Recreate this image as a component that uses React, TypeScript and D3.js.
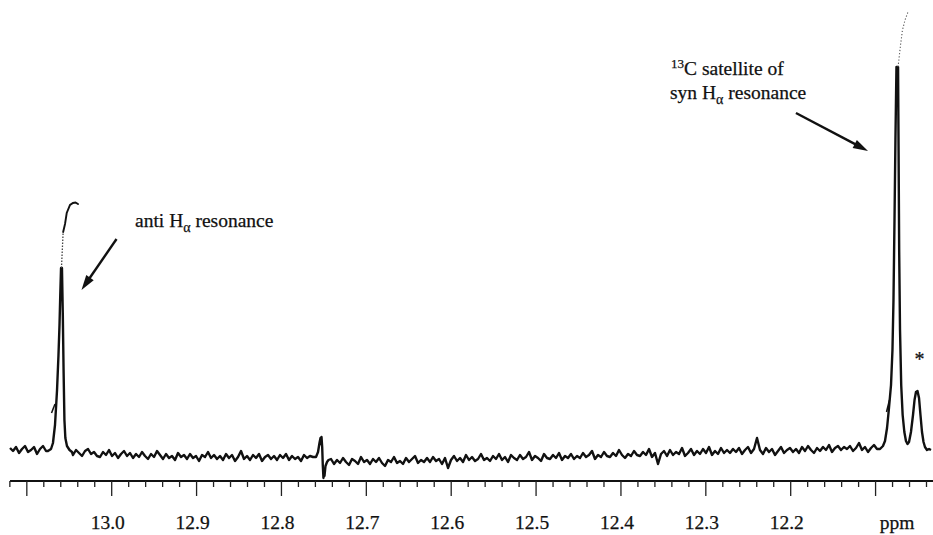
import React from "react";
import * as d3 from "d3";

const W = 933;
const H = 535;

// ppm axis
const majorTicks = [13.1, 13.0, 12.9, 12.8, 12.7, 12.6, 12.5, 12.4, 12.3, 12.2, 12.1];
const labelValues = [13.0, 12.9, 12.8, 12.7, 12.6, 12.5, 12.4, 12.3, 12.2];
const tickLabels = ["13.0", "12.9", "12.8", "12.7", "12.6", "12.5", "12.4", "12.3", "12.2"];
const unitLabel = "ppm";
const unitLabelPpm = 12.0748;
const minorStart = 13.12;
const minorEnd = 12.04;
const minorStep = 0.02;
const axisStartPpm = 13.1198;
const axisEndPpm = 12.0323;

// spectrum range (ppm)
const traceStartPpm = 13.1198;
const traceEndPpm = 12.0347;

// baseline noise, sampled uniformly from traceStartPpm to traceEndPpm (intensity units)
const baselineNoise = [
  4, 1, 5, -1, 3, 6, 0, 2, 5, -2,
  3, 6, 1, 4, 2, 0, 3, 1, -1, 2,
  1, -3, 2, -1, -4, 1, 3, -2, 0, -4,
  -5, 0, -3, 2, -4, -1, -6, -2, 1, -4,
  -1, -6, -2, -5, 0, -4, -7, -2, -5, 1,
  -3, -7, -2, -6, -4, -8, -1, -5, -3, -7,
  -2, -6, -4, -9, -3, -5, 0, -6, -3, -7,
  -4, -8, -2, -6, -3, -9, -5, 1, -7, -4,
  -8, -3, -6, -2, -9, -5, -3, -7, -4, -8,
  -3, -6, -2, -8, -4, -7, -5, -9, -3, -6,
  -4, -5, -6, -8, -7, -9, -10, -7, -12, -8,
  -11, -6, -10, -13, -7, -9, -12, -5, -10, -8,
  -12, -7, -10, -6, -11, -14, -8, -10, -5, -11,
  -9, -12, -6, -10, -7, -4, -11, -8, -10, -6,
  -10, -5, -9, -7, -12, -6, -16, -8, -4, -9,
  -6, -10, -3, -8, -5, -9, -7, -2, -8, -6,
  -9, -4, -7, -2, -8, -5, -10, -3, -6, -8,
  -3, -7, -5, 0, -8, -4, -6, -9, -2, -6,
  -7, -3, -6, -1, -8, -4, -6, -2, -7, -4,
  -6, -1, -5, -3, 1, -7, -3, -5, 0, -4,
  -5, -1, -4, 2, -3, -6, -2, -4, 1, -3,
  -4, 0, -3, 3, -5, -1, -12, -2, 1, -4,
  2, -3, 0, -2, 4, -4, -1, 3, -3, 1,
  -2, 3, -1, 5, -3, 1, -2, 4, -1, 2,
  -1, 3, 0, 4, -2, 2, 5, -1, 3, 14,
  2, -2, 4, 0, 3, -3, 1, 5, -1, 2,
  4, 0, 3, -1, 5, 1, 6, 2, -1, 4,
  1, 5, 2, 7, 0, 4, 6, 2, 5, 3,
  6, 1, 4, 9, 2, 5, 0, 4, 7, 3,
  3, 2, 4, 1, 3, 2, 4, 1, 3, 2,
  3, 2, 4, 1, 3, 2, 1, 2,
];

// anti H-alpha resonance [ppm, intensity]
const antiPeak: [number, number][] = [
  [13.0751, 1], [13.0715, 3], [13.0692, 9], [13.0668, 27], [13.0644, 62],
  [13.0627, 97], [13.0615, 127], [13.0606, 157], [13.0597, 184], [13.0586, 184],
  [13.0576, 137], [13.0567, 82], [13.0557, 32], [13.0546, 14], [13.0527, 6],
  [13.0497, 2], [13.0468, 0],
];
// pen trace above the anti peak (off-scale part)
const antiOvershootDots: [number, number][] = [
  [13.0592, 184], [13.0582, 202], [13.0572, 220],
];
const antiOvershootHook: [number, number][] = [
  [13.0572, 220], [13.055, 228], [13.053, 239], [13.0491, 247], [13.0456, 249],
  [13.0427, 249.5], [13.0397, 248],
];
const antiMark: [number, number][] = [[13.0709, 39], [13.0668, 48]];

// artefact near 12.75 ppm
const glitch: [number, number][] = [
  [12.7593, -5], [12.7569, 0], [12.7552, 9], [12.754, 14], [12.7532, 8],
  [12.7528, 15], [12.752, 5], [12.7513, -13], [12.7505, -26], [12.7499, -18],
  [12.7493, -24], [12.7481, -14], [12.7463, -10], [12.7446, -8],
];

// 13C satellite of syn H-alpha and impurity (*)
const synPeaks: [number, number][] = [
  [12.0948, 3], [12.0913, 6], [12.0889, 11], [12.0865, 24], [12.0842, 44],
  [12.0818, 67], [12.0801, 102], [12.0789, 152], [12.0777, 232], [12.0766, 312],
  [12.0754, 385], [12.0735, 385], [12.0729, 302], [12.0722, 202], [12.0712, 122],
  [12.0698, 67], [12.0681, 37], [12.0661, 20], [12.0642, 11], [12.0624, 8],
  [12.0606, 10], [12.0583, 20], [12.0559, 37], [12.0541, 52], [12.0524, 60],
  [12.0506, 61], [12.0488, 54], [12.0471, 37], [12.0453, 20], [12.0435, 10],
  [12.0418, 5], [12.0394, 2], [12.037, 3],
];
const synOvershootDots: [number, number][] = [
  [12.0735, 385], [12.0706, 407], [12.0683, 422], [12.0653, 432], [12.0618, 440],
];
const synMark: [number, number][] = [[12.0871, 40], [12.0836, 52]];

const starPpm = 12.0483;
const starIntensity = 86;

const antiLabel = { ppm: 12.9725, y: 227, text1: "anti H", sub: "α", text2: " resonance" };
const antiArrow = { from: [12.9943, 213], to: [13.0356, 162] };
const synLabel = { ppm: 12.341, y1: 75, y2: 99 };
const synArrow = { from: [12.1938, 339], to: [12.1089, 301] };

const x = d3.scaleLinear().domain([13.0, 12.2]).range([111.7, 790.7]);
const y = d3.scaleLinear().domain([0, 440]).range([452, 12]);

const line = d3
  .line<[number, number]>()
  .x((d) => x(d[0]))
  .y((d) => y(d[1]));

function buildTrace(): [number, number][] {
  const n = baselineNoise.length;
  const peaks = [antiPeak, glitch, synPeaks];
  const inPeak = (p: number) =>
    peaks.some((pk) => p <= pk[0][0] && p >= pk[pk.length - 1][0]);
  const base: [number, number][] = baselineNoise
    .map((v, i) => [traceStartPpm + ((traceEndPpm - traceStartPpm) * i) / (n - 1), v] as [number, number])
    .filter((d) => !inPeak(d[0]));
  return [...base, ...peaks.flat()].sort((a, b) => b[0] - a[0]);
}

function Arrow({ from, to }: { from: number[]; to: number[] }) {
  const x1 = x(from[0]);
  const y1 = y(from[1]);
  const x2 = x(to[0]);
  const y2 = y(to[1]);
  const ang = Math.atan2(y2 - y1, x2 - x1);
  const len = 15;
  const hw = 4.5;
  const bx = x2 - len * Math.cos(ang);
  const by = y2 - len * Math.sin(ang);
  const px = -Math.sin(ang) * hw;
  const py = Math.cos(ang) * hw;
  return (
    <g>
      <line x1={x1} y1={y1} x2={bx + Math.cos(ang) * 2} y2={by + Math.sin(ang) * 2} stroke="#111" strokeWidth={2.4} />
      <path d={`M${x2},${y2} L${bx + px},${by + py} L${bx - px},${by - py} Z`} fill="#111" />
    </g>
  );
}

const font = "Liberation Serif, Times New Roman, serif";
const textStyle = { fontFamily: font, fontSize: 19.5, fill: "#111", stroke: "#111", strokeWidth: 0.25 } as const;
const labelShift = -4;

export default function App() {
  const trace = buildTrace();
  const minorTicks = d3
    .range(0, Math.round((minorStart - minorEnd) / minorStep) + 1)
    .map((i) => +(minorStart - i * minorStep).toFixed(3))
    .filter((v) => !majorTicks.some((m) => Math.abs(m - v) < 1e-6));
  const axisY = 481;
  return (
    <svg
      width={W}
      height={H}
      viewBox={`0 0 ${W} ${H}`}
      style={{ position: "absolute", left: 0, top: 0, display: "block", background: "#fff" }}
    >
      <rect x={0} y={0} width={W} height={H} fill="#fff" />
      {/* spectrum */}
      <path d={line(trace) || ""} fill="none" stroke="#111" strokeWidth={2.4} strokeLinejoin="round" />
      <path d={line(antiOvershootDots) || ""} fill="none" stroke="#444" strokeWidth={1.3} strokeDasharray="1.5 1.5" />
      <path d={line(antiOvershootHook) || ""} fill="none" stroke="#111" strokeWidth={1.9} strokeLinecap="round" />
      <path d={line(antiMark) || ""} fill="none" stroke="#111" strokeWidth={1.5} />
      <path d={line(synOvershootDots) || ""} fill="none" stroke="#555" strokeWidth={1.1} strokeDasharray="1.2 2" />
      <path d={line(synMark) || ""} fill="none" stroke="#111" strokeWidth={1.5} />

      {/* axis */}
      <line x1={x(axisStartPpm)} x2={x(axisEndPpm)} y1={axisY} y2={axisY} stroke="#111" strokeWidth={2} />
      {majorTicks.map((t) => (
        <line key={"M" + t} x1={x(t)} x2={x(t)} y1={axisY} y2={axisY + 15} stroke="#222" strokeWidth={1.3} />
      ))}
      {minorTicks.map((t) => (
        <line key={"m" + t} x1={x(t)} x2={x(t)} y1={axisY} y2={axisY + 6} stroke="#222" strokeWidth={1.3} />
      ))}
      {labelValues.map((v, i) => (
        <text key={"l" + v} x={x(v) + labelShift} y={529} textAnchor="middle" style={textStyle}>
          {tickLabels[i]}
        </text>
      ))}
      <text x={x(unitLabelPpm)} y={529} textAnchor="middle" style={textStyle}>
        {unitLabel}
      </text>

      {/* annotations */}
      <text x={x(antiLabel.ppm)} y={antiLabel.y} style={textStyle}>
        {antiLabel.text1}
        <tspan fontSize={14} dy={5}>{antiLabel.sub}</tspan>
        <tspan dy={-5}>{antiLabel.text2}</tspan>
      </text>
      <Arrow from={antiArrow.from} to={antiArrow.to} />

      <text x={x(synLabel.ppm)} y={synLabel.y1} style={textStyle}>
        <tspan fontSize={13} dy={-7}>13</tspan>
        <tspan dy={7}>C satellite of</tspan>
      </text>
      <text x={x(synLabel.ppm) - 1} y={synLabel.y2} style={textStyle}>
        syn H<tspan fontSize={14} dy={5}>α</tspan>
        <tspan dy={-5}> resonance</tspan>
      </text>
      <Arrow from={synArrow.from} to={synArrow.to} />

      <text x={x(starPpm)} y={y(starIntensity)} textAnchor="middle" style={{ ...textStyle, fontSize: 20 }}>
        *
      </text>
    </svg>
  );
}
